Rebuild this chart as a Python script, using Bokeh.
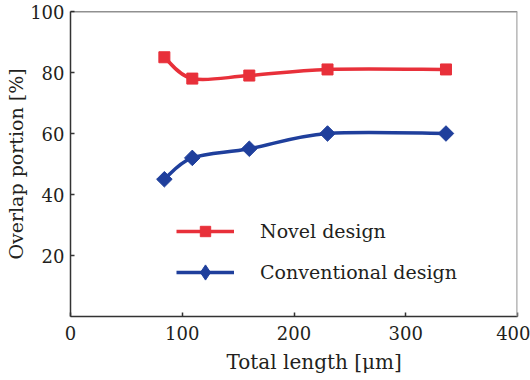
import numpy as np
from bokeh.plotting import figure
from bokeh.models import (FixedTicker, Span, Legend, LegendItem, ColumnDataSource, Title)
from bokeh.embed import file_html
from bokeh.resources import INLINE

# ---- data ----
total_length = [84, 109, 160, 230, 336]
novel = [85, 78, 79, 81, 81]
conventional = [45, 52, 55, 60, 60]
x_ticks = [0, 100, 200, 300, 400]
y_ticks = [20, 40, 60, 80, 100]

RED = "#E8303A"
BLUE = "#1F3F9C"
FONT = "DejaVu Serif"
TXT = "#231F20"

p = figure(width=530, height=380, output_backend="svg", toolbar_location=None,
           x_range=(0, 400), y_range=(0, 100),
           min_border_left=70, min_border_right=13, min_border_top=11, min_border_bottom=64)
p.outline_line_color = None
p.xgrid.visible = False
p.ygrid.visible = False
p.background_fill_color = "white"
p.border_fill_color = "white"

for ax in (p.xaxis[0], p.yaxis[0]):
    ax.major_tick_in = 4
    ax.major_tick_out = 0
    ax.minor_tick_line_color = None
    ax.axis_line_color = "#333333"
    ax.axis_line_width = 1.5
    ax.major_tick_line_color = "#333333"
    ax.major_tick_line_width = 1.5
    ax.major_label_text_font = FONT
    ax.major_label_text_font_size = "18px"
    ax.major_label_text_color = TXT
    ax.axis_label_text_font = FONT
    ax.axis_label_text_font_size = "19px"
    ax.axis_label_text_font_style = "normal"
    ax.axis_label_text_color = TXT

p.xaxis.ticker = FixedTicker(ticks=x_ticks)
p.yaxis.ticker = FixedTicker(ticks=y_ticks)
p.yaxis.axis_label = "Overlap portion [%]"
p.xaxis.major_label_standoff = 9
p.yaxis.major_label_standoff = 6
p.yaxis.axis_label_standoff = 0

xlabel = Title(text="Total length [μm]", align="left", offset=156, standoff=11,
               text_font=FONT, text_font_size="20px", text_font_style="normal",
               text_color=TXT)
p.add_layout(xlabel, "below")

p.add_layout(Span(location=100, dimension="width", line_color="#222222", line_width=1.5))
p.add_layout(Span(location=400, dimension="height", line_color="#A8A8A8", line_width=2.5))


def bezier_segments(xs, ys):
    xs = np.asarray(xs, float)
    ys = np.asarray(ys, float)
    n = len(xs)
    seg = dict(x0=[], y0=[], x1=[], y1=[], cx0=[], cy0=[], cx1=[], cy1=[])
    for i in range(n - 1):
        im = max(i - 1, 0)
        ip2 = min(i + 2, n - 1)
        seg["x0"].append(xs[i]); seg["y0"].append(ys[i])
        seg["x1"].append(xs[i + 1]); seg["y1"].append(ys[i + 1])
        seg["cx0"].append(xs[i] + (xs[i + 1] - xs[im]) / 6)
        seg["cy0"].append(ys[i] + (ys[i + 1] - ys[im]) / 6)
        seg["cx1"].append(xs[i + 1] - (xs[ip2] - xs[i]) / 6)
        seg["cy1"].append(ys[i + 1] - (ys[ip2] - ys[i]) / 6)
    return ColumnDataSource(seg)


b1 = p.bezier(x0="x0", y0="y0", x1="x1", y1="y1", cx0="cx0", cy0="cy0", cx1="cx1", cy1="cy1",
              source=bezier_segments(total_length, novel), line_color=RED, line_width=3.5)
b2 = p.bezier(x0="x0", y0="y0", x1="x1", y1="y1", cx0="cx0", cy0="cy0", cx1="cx1", cy1="cy1",
              source=bezier_segments(total_length, conventional), line_color=BLUE, line_width=3.5)
s1 = p.scatter(total_length, novel, marker="square", size=11, fill_color=RED, line_color=RED)
s2 = p.scatter(total_length, conventional, marker="square", angle=np.pi / 4, size=11,
               fill_color=BLUE, line_color=BLUE)
# zero-size diamonds: only give the legend its diamond symbol
s2_leg = p.scatter(total_length, conventional, marker="diamond", size=0,
                   fill_color=BLUE, line_color=BLUE)

common = dict(glyph_width=58, label_standoff=26, padding=0, margin=0,
              border_line_color=None, background_fill_alpha=0,
              label_text_font=FONT, label_text_font_size="19px", label_text_color=TXT)

legend1 = Legend(items=[LegendItem(label="Novel design", renderers=[b1, s1])],
                 location=(106, 72), glyph_height=26, label_height=26, **common)
legend2 = Legend(items=[LegendItem(label="Conventional design", renderers=[b2, s2_leg])],
                 location=(106, 25), glyph_height=38, label_height=38, **common)
p.add_layout(legend1)
p.add_layout(legend2)

open("out.html", "w").write(file_html(p, INLINE))
